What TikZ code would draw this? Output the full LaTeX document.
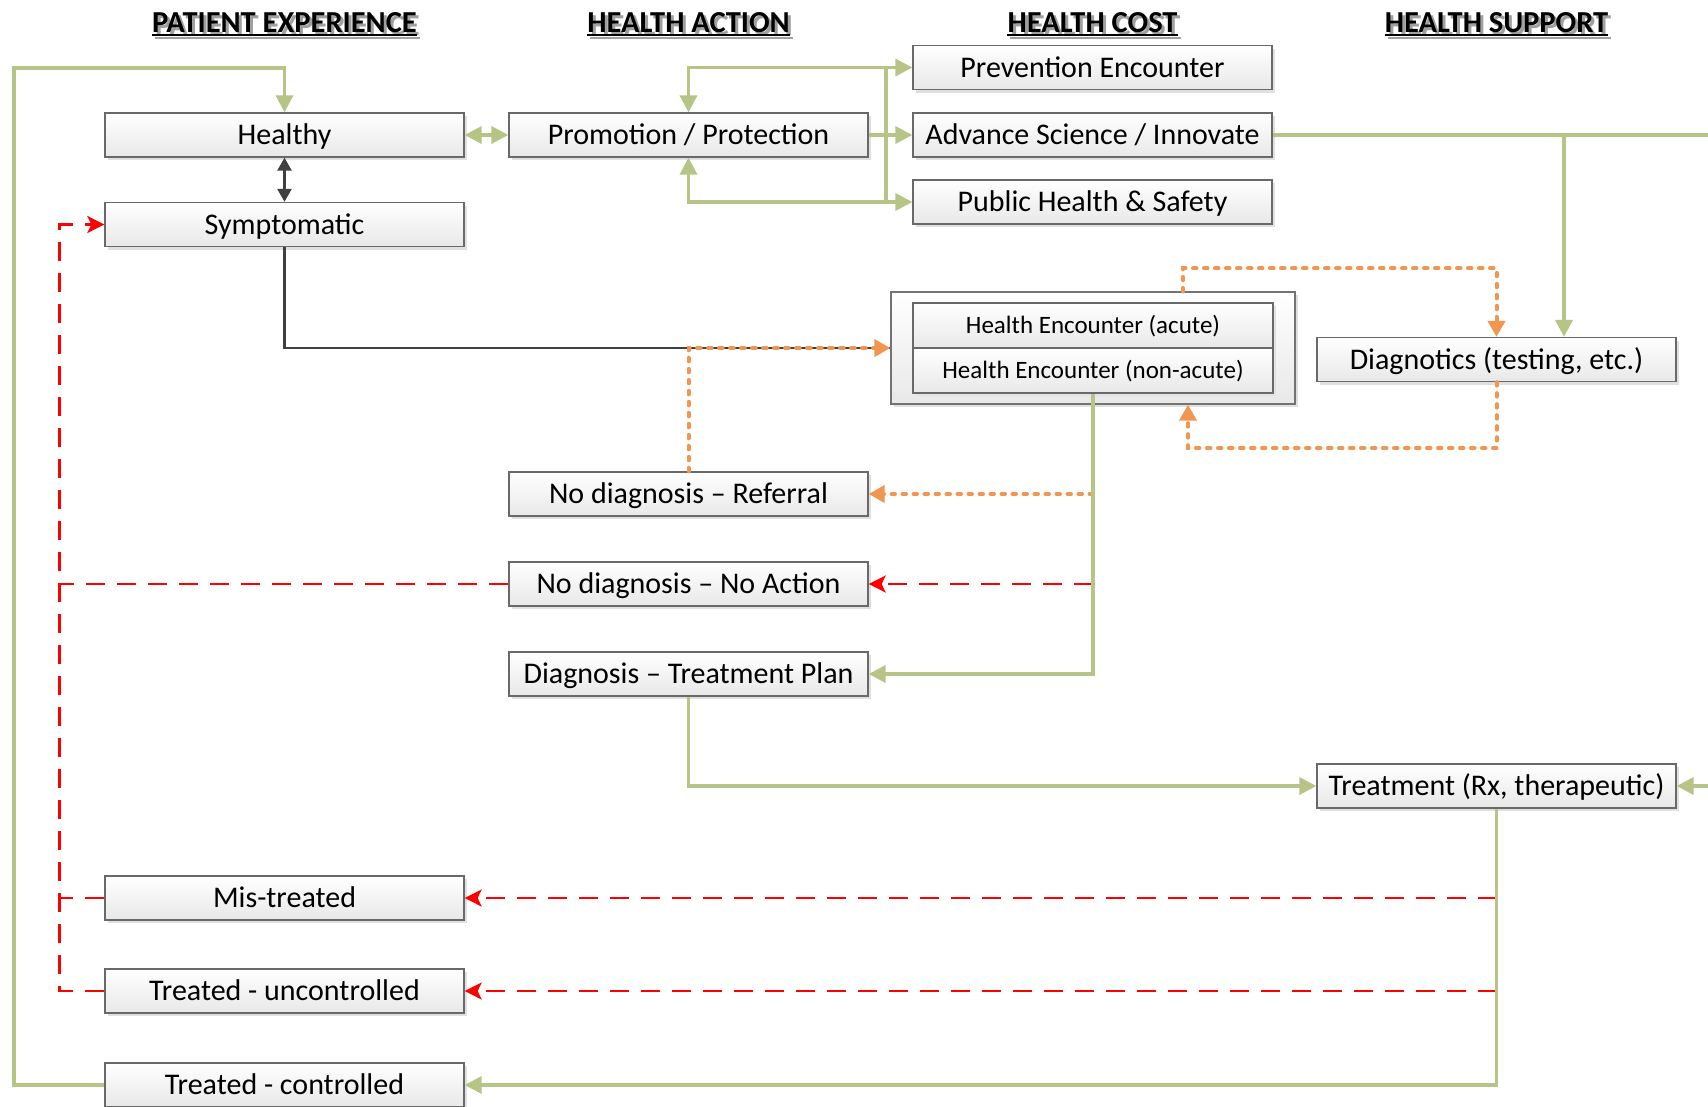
\documentclass[tikz,border=0pt]{standalone}
\usepackage{fontspec}
\setmainfont{Carlito}
\usetikzlibrary{arrows.meta,shadows,calc}

\definecolor{flowgreen}{RGB}{182,196,134}
\definecolor{flowred}{RGB}{255,0,0}
\definecolor{floworange}{RGB}{240,150,80}
\definecolor{flowdark}{RGB}{64,64,64}
\definecolor{boxedge}{RGB}{105,105,105}
\definecolor{hdrshade}{RGB}{160,160,160}

\tikzset{
  box/.style={rectangle, draw=boxedge, line width=1.3pt, top color=white, bottom color=black!9,
    minimum width=359pt, minimum height=44pt, inner sep=0pt,
    text height=19.3pt, text depth=0pt,
    font=\fontsize{30}{35}\selectfont,
    drop shadow={shadow xshift=3pt, shadow yshift=-3pt, fill=black!12, opacity=1}},
  encbox/.style={box, minimum width=360pt, minimum height=45pt, text height=16.1pt,
    font=\fontsize{25}{30}\selectfont,
    drop shadow={shadow xshift=2pt, shadow yshift=-2pt, fill=black!10, opacity=1}},
  outerbox/.style={box, draw=black!55, minimum width=404pt, minimum height=112pt},
  gtip/.tip={Triangle[length=17pt,width=17pt]},
  otip/.tip={Triangle[length=16pt,width=17pt]},
  rtip/.tip={Stealth[length=17pt,width=17pt,inset=4pt]},
  dtip/.tip={Triangle[length=13pt,width=14pt]},
  gline/.style={draw=flowgreen, line width=3.5pt},
  garrow/.style={gline, -gtip},
  rline/.style={draw=flowred, line width=2.5pt, dash pattern=on 19pt off 12pt},
  rarrow/.style={rline, -rtip},
  oline/.style={draw=floworange, line width=4pt, line cap=round, dash pattern=on 3.5pt off 7.5pt},
  oarrow/.style={oline, -otip},
  dline/.style={draw=flowdark, line width=2.5pt},
  hdr/.style={font=\bfseries\fontsize{30.5}{34}\selectfont, inner sep=0pt, anchor=base},
}

% column heading with an underline and a soft offset shade
\newcommand\colhead[3]{%
  \node[hdr, text=hdrshade] (#1-shade) at (#2+3,35) {#3};
  \draw[hdrshade, line width=2pt] ($(#1-shade.base west)+(0,3)$) -- ($(#1-shade.base east)+(0,3)$);
  \node[hdr] (#1) at (#2,32) {#3};
  \draw[black, line width=2pt] ($(#1.base west)+(0,3)$) -- ($(#1.base east)+(0,3)$);
}

\begin{document}
\begin{tikzpicture}[x=1pt,y=-1pt]
\useasboundingbox (0,0) rectangle (1708,1106);
\fill[white] (0,0) rectangle (1708,1106);

% headings
\colhead{hpe}{284.5}{PATIENT EXPERIENCE}
\colhead{hha}{688.5}{HEALTH ACTION}
\colhead{hhc}{1092.5}{HEALTH COST}
\colhead{hhs}{1496.5}{HEALTH SUPPORT}

% patient experience column
\node[box] (healthy) at (284.5,135) {Healthy};
\node[box] (sympt)   at (284.5,224.5) {Symptomatic};
\node[box] (mis)     at (284.5,898) {Mis-treated};
\node[box] (tunc)    at (284.5,991) {Treated - uncontrolled};
\node[box] (tctl)    at (284.5,1085) {Treated - controlled};

% health action column
\node[box] (promo)    at (688.5,135) {Promotion / Protection};
\node[box] (referral) at (688.5,494) {No diagnosis -- Referral};
\node[box] (noaction) at (688.5,584) {No diagnosis -- No Action};
\node[box] (diagplan) at (688.5,674) {Diagnosis -- Treatment Plan};

% health cost column
\node[box] (prevent) at (1092.5,67.5) {Prevention Encounter};
\node[box] (advance) at (1092.5,135) {Advance Science / Innovate};
\node[box] (public)  at (1092.5,202) {Public Health \& Safety};
\node[outerbox] (enc) at (1093,348) {};
\node[encbox] (acute)    at (1093,325.5) {Health Encounter (acute)};
\node[encbox] (nonacute) at (1093,370.5) {Health Encounter (non-acute)};

% health support column
\node[box] (diag)  at (1496.5,359.5) {Diagnotics (testing, etc.)};
\node[box] (treat) at (1496.5,786) {Treatment (Rx, therapeutic)};

% free ends and bends
\coordinate (hub) at (886,135);
\coordinate (branch) at (1564,135);
\coordinate (edgeA) at (1708,135);
\coordinate (edgeT) at (1708,786);
\coordinate (loopL) at (14,68);
\coordinate (fbx) at (60,0);

% return to healthy
\draw[garrow] (tctl.west) -| (loopL) -| (healthy.north);

% healthy <-> symptomatic, healthy <-> promotion
\draw[dline, dtip-dtip] (healthy.south) -- (sympt.north);
\draw[gline, gtip-gtip] (healthy.east) -- (promo.west);

% promotion to the health cost items
\draw[garrow] (promo.east) -- (advance.west);
\draw[gline, gtip-gtip] (promo.north) |- (prevent.west);
\draw[gline, gtip-gtip] (promo.south) |- (public.west);
\draw[gline] (hub |- prevent.west) -- (hub |- public.west);

% advance science to support
\draw[gline] (advance.east) -- (edgeA);
\draw[garrow] (branch) -- (branch |- diag.north);
\draw[garrow] (edgeT) -- (treat.east);

% symptomatic to encounter
\draw[dline] (sympt.south) |- (enc.west);
\draw[oarrow] (referral.north) |- (enc.west);

% encounter <-> diagnostics
\draw[oarrow] ($(enc.north)+(90,0)$) -- ++(0,-23) -| (diag.north);
\draw[oarrow] (diag.south) -- ++(0,66) -| ($(enc.south)+(95,0)$);

% encounter outcomes
\draw[oarrow] (nonacute.south |- referral.east) -- (referral.east);
\draw[rarrow] (nonacute.south |- noaction.east) -- (noaction.east);
\draw[garrow] (nonacute.south) |- (diagplan.east);

% plan to treatment
\draw[garrow] (diagplan.south) |- (treat.west);

% treatment outcomes
\draw[rarrow] (treat.south |- mis.east) -- (mis.east);
\draw[rarrow] (treat.south |- tunc.east) -- (tunc.east);
\draw[garrow] (treat.south) |- (tctl.east);

% back to symptomatic
\draw[rarrow] (tunc.west) -| ($(sympt.west)+(-45,0)$) -- (sympt.west);
\draw[rline] (mis.west) -- (mis.west -| fbx);
\draw[rline] (noaction.west) -- (noaction.west -| fbx);

\end{tikzpicture}
\end{document}
